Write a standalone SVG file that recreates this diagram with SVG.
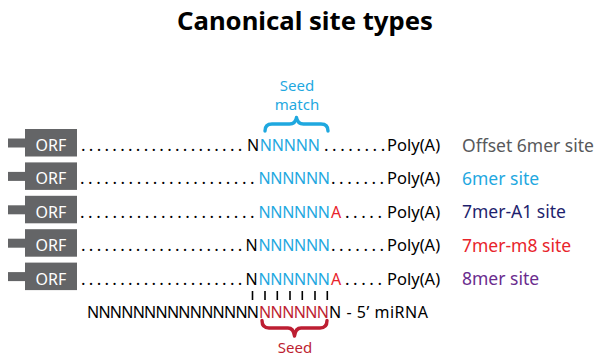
<svg xmlns="http://www.w3.org/2000/svg" width="600" height="363" viewBox="0 0 600 363">
<style>
  .title{font-family:"Noto Sans","Open Sans",sans-serif;font-weight:bold;font-size:25px;fill:#000}
  .seq{font-family:"Noto Sans","Open Sans",sans-serif;font-size:16px;fill:#000}
  .dots{font-family:"Noto Sans","Open Sans",sans-serif;font-size:17px;fill:#000;letter-spacing:3.54px}
  .dotsL{letter-spacing:3.28px}
  .plain{font-size:16.5px;letter-spacing:0}
  .blue{fill:#1fa8df}
  .redA{fill:#e8242b}
  .crimson{fill:#bd1e32}
  .orf{fill:#646567}
  .orft{font-family:"Noto Sans","Open Sans",sans-serif;font-size:16px;fill:#fff;text-anchor:middle}
  .lab{font-family:"Noto Sans","Open Sans",sans-serif;font-size:17.5px}
  .ann{font-family:"Noto Sans","Open Sans",sans-serif;font-size:15px;text-anchor:middle}
  .brace{fill:none;stroke-width:3.4;stroke-linecap:round;stroke-linejoin:round}
  .bar{stroke:#000;stroke-width:1.6}
</style>
<defs>
  <g id="orfbox">
    <rect x="8" y="9.5" width="18" height="9" class="orf"/>
    <rect x="25" y="0" width="52" height="27.5" class="orf"/>
    <text x="51" y="22" class="orft">ORF</text>
  </g>
</defs>

<text id="title" x="305" y="30" class="title" text-anchor="middle" textLength="256" lengthAdjust="spacingAndGlyphs">Canonical site types</text>

<g id="seed-match">
  <text class="ann" fill="#1fa8df"><tspan x="297" y="90.5">Seed</tspan><tspan x="297" y="110">match</tspan></text>
  <path class="brace" stroke="#1fa8df" d="M265,131 Q265,124 272,124 L289.5,124 Q295.5,124 296.5,117.5 Q297.5,124 303.5,124 L321,124 Q328,124 328,131"/>
</g>

<g id="row-offset6mer">
  <use href="#orfbox" y="129"/>
  <text x="81" y="151" class="dots dotsL">.....................</text>
  <text x="247" y="151" class="seq">N</text>
  <text x="259.8" y="151" class="seq blue" textLength="60.2">NNNNN</text>
  <text x="324" y="151" class="dots">........<tspan class="plain" x="387">Poly(A)</tspan></text>
  <text x="462" y="151.5" class="lab" fill="#58595b">Offset 6mer site</text>
</g>

<g id="row-6mer">
  <use href="#orfbox" y="162.4"/>
  <text x="80" y="184.4" class="dots">......................</text>
  <text x="258.5" y="184.4" class="seq blue" textLength="71.5">NNNNNN</text>
  <text x="331" y="184.4" class="dots">.......<tspan class="plain" x="387">Poly(A)</tspan></text>
  <text x="462" y="185" class="lab" fill="#1fa8df">6mer site</text>
</g>

<g id="row-7merA1">
  <use href="#orfbox" y="195.8"/>
  <text x="80" y="217.8" class="dots">......................</text>
  <text x="258.5" y="217.8" class="seq blue" textLength="71.5">NNNNNN</text>
  <text x="331" y="217.8" class="seq redA">A</text>
  <text x="345" y="217.8" class="dots">.....<tspan class="plain" x="387">Poly(A)</tspan></text>
  <text x="462" y="218.4" class="lab" fill="#1f1f6e">7mer-A1 site</text>
</g>

<g id="row-7merm8">
  <use href="#orfbox" y="229.2"/>
  <text x="81" y="251.2" class="dots dotsL">.....................</text>
  <text x="245.5" y="251.2" class="seq">N</text>
  <text x="258.5" y="251.2" class="seq blue" textLength="71.5">NNNNNN</text>
  <text x="331" y="251.2" class="dots">.......<tspan class="plain" x="387">Poly(A)</tspan></text>
  <text x="462" y="251.8" class="lab" fill="#e8242b">7mer-m8 site</text>
</g>

<g id="row-8mer">
  <use href="#orfbox" y="262.6"/>
  <text x="81" y="284.6" class="dots dotsL">.....................</text>
  <text x="245.5" y="284.6" class="seq">N</text>
  <text x="258.5" y="284.6" class="seq blue" textLength="71.5">NNNNNN</text>
  <text x="331" y="284.6" class="seq redA">A</text>
  <text x="345" y="284.6" class="dots">.....<tspan class="plain" x="387">Poly(A)</tspan></text>
  <text x="462" y="285.2" class="lab" fill="#6a2c8e">8mer site</text>
</g>

<g id="connectors">
  <line class="bar" x1="252.5" y1="291" x2="252.5" y2="300"/>
  <line class="bar" x1="265" y1="291" x2="265" y2="300"/>
  <line class="bar" x1="277.3" y1="291" x2="277.3" y2="300"/>
  <line class="bar" x1="290" y1="291" x2="290" y2="300"/>
  <line class="bar" x1="302.3" y1="291" x2="302.3" y2="300"/>
  <line class="bar" x1="315" y1="291" x2="315" y2="300"/>
  <line class="bar" x1="327.3" y1="291" x2="327.3" y2="300"/>
</g>

<g id="mirna">
  <text x="87" y="317.5" class="seq" textLength="172">NNNNNNNNNNNNNNN</text>
  <text x="259" y="317.5" class="seq crimson" textLength="70">NNNNNN</text>
  <text x="329" y="317.5" class="seq" textLength="99">N - 5’ miRNA</text>
</g>

<g id="seed">
  <path class="brace" stroke="#bd1e32" d="M262,320.5 Q262,328 269,328 L288,328 Q293.5,328 294.5,336 Q295.5,328 301,328 L320,328 Q327,328 327,320.5"/>
  <text x="295" y="353" class="ann" fill="#bd1e32">Seed</text>
</g>
</svg>
